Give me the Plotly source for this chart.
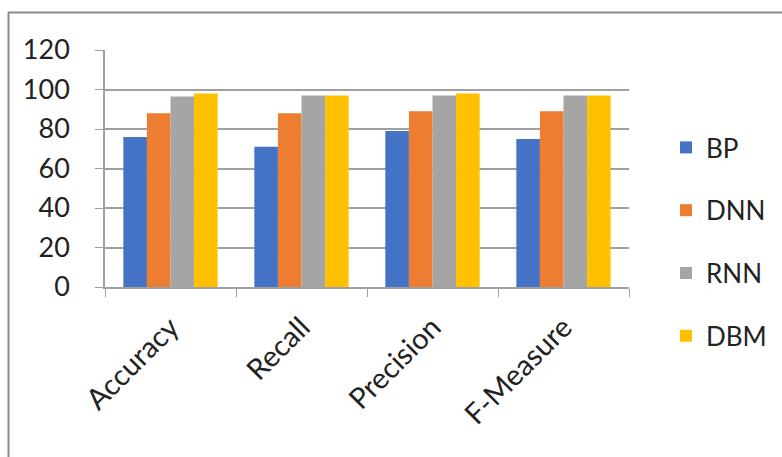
import plotly.graph_objects as go

categories = ["Accuracy", "Recall", "Precision", "F-Measure"]
series_names = ["BP", "DNN", "RNN", "DBM"]
bp = [76, 71, 79, 75]
dnn = [88, 88, 89, 89]
rnn = [96.5, 97, 97, 97]
dbm = [98, 97, 98, 97]
colors = ["#4472C4", "#ED7D31", "#A5A5A5", "#FFC000"]
y_ticks = [0, 20, 40, 60, 80, 100, 120]

FONT = "Lato"
fig = go.Figure()
for name, vals, col in zip(series_names, [bp, dnn, rnn, dbm], colors):
    fig.add_trace(go.Bar(x=categories, y=vals, name=name, marker_color=col,
                         marker_line_width=0, legendgroup=name))

W, H = 782, 457
L, R, T, B = 105, 153, 50, 170
pw, ph = W - L - R, H - T - B

def px_x(p):
    return (p - L) / pw

def px_y(p):
    return (H - B - p) / ph

fig.update_layout(
    width=W, height=H,
    margin=dict(l=L, r=R, t=T, b=B, autoexpand=False),
    paper_bgcolor="white", plot_bgcolor="white",
    barmode="group", bargap=0.28, bargroupgap=0,
    font=dict(family=FONT, size=26, color="#222"),
    legend=dict(x=px_x(666), y=px_y(124), xanchor="left", yanchor="top",
                font=dict(family=FONT, size=26, color="#222"),
                tracegroupgap=26, itemwidth=30, maxheight=320),
    xaxis=dict(showgrid=False, showline=True, linecolor="#A0A0A0", linewidth=1.5,
               ticks="outside", tickson="boundaries", ticklen=8, tickcolor="#A0A0A0",
               tickangle=-45, ticklabelstandoff=10,
               tickfont=dict(family=FONT, size=29, color="#222")),
    yaxis=dict(range=[0, 120], tickvals=y_ticks, showgrid=True, gridcolor="#A0A0A0",
               gridwidth=1.5, showline=True, linecolor="#A0A0A0", linewidth=1.5,
               ticks="outside", ticklen=8, tickcolor="#A0A0A0", zeroline=False,
               ticklabelstandoff=20, tickfont=dict(family=FONT, size=27, color="#222")),
    shapes=[
        dict(type="line", xref="paper", yref="paper", x0=px_x(8), x1=px_x(790),
             y0=px_y(12.5), y1=px_y(12.5), line=dict(color="#8C8C8C", width=2)),
        dict(type="line", xref="paper", yref="paper", x0=px_x(8.5), x1=px_x(8.5),
             y0=px_y(12.5), y1=px_y(470), line=dict(color="#8C8C8C", width=2)),
    ],
)

fig.write_html("out.html")
